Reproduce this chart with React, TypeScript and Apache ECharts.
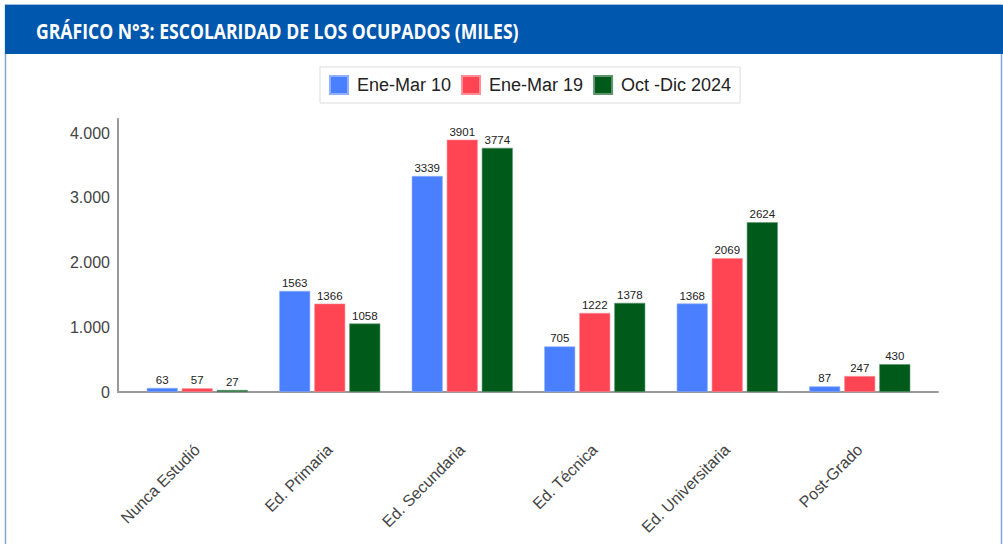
import React, { useEffect, useRef } from "react";
import * as echarts from "echarts";

const categories = ["Nunca Estudió", "Ed. Primaria", "Ed. Secundaria", "Ed. Técnica", "Ed. Universitaria", "Post-Grado"];
const seriesNames = ["Ene-Mar 10", "Ene-Mar 19", "Oct -Dic 2024"];
const eneMar10 = [63, 1563, 3339, 705, 1368, 87];
const eneMar19 = [57, 1366, 3901, 1222, 2069, 247];
const octDic2024 = [27, 1058, 3774, 1378, 2624, 430];
const seriesColors = ["#4a80ff", "#ff4454", "#005a1a"];
const seriesEdge = ["#8fb0ff", "#ff8e97", "#5f9670"];
const titleText = "GRÁFICO N°3: ESCOLARIDAD DE LOS OCUPADOS (MILES)";

const fmt = (v: number) => String(v).replace(/\B(?=(\d{3})+(?!\d))/g, ".");

export default function App() {
  const ref = useRef<HTMLDivElement>(null);
  useEffect(() => {
    if (!ref.current) return;
    const chart = echarts.init(ref.current, undefined, { renderer: "svg" });

    const titleFont = "bold 22px 'Open Sans'";
    let scaleX = 0.72;
    try {
      const ctx = document.createElement("canvas").getContext("2d");
      if (ctx) {
        ctx.font = titleFont;
        const w = ctx.measureText(titleText).width;
        if (w > 0) scaleX = 483 / w;
      }
    } catch (e) {}

    const values = [eneMar10, eneMar19, octDic2024];
    const labelFont = "'Liberation Sans', Arial, sans-serif";

    chart.setOption({
      animation: false,
      backgroundColor: "#ffffff",
      graphic: [
        {
          type: "rect",
          shape: { x: 5.5, y: 5, width: 996, height: 600 },
          style: { fill: "#ffffff", stroke: "#7ea8d8", lineWidth: 1.5 },
          z: -10,
        },
        {
          type: "rect",
          shape: { x: 5, y: 5, width: 998, height: 49 },
          style: { fill: "#0057ae" },
          z: -5,
        },
        {
          type: "text",
          x: 36,
          y: 31,
          scaleX: scaleX,
          style: {
            text: titleText,
            fill: "#ffffff",
            font: titleFont,
            verticalAlign: "middle",
          },
        },
      ],
      legend: {
        data: seriesNames,
        left: 320,
        top: 67,
        padding: [8, 9, 8, 9],
        itemWidth: 18,
        itemHeight: 18,
        itemGap: 10,
        icon: "rect",
        borderColor: "#dddddd",
        borderWidth: 1,
        textStyle: { fontSize: 18, color: "#222222", fontFamily: labelFont, padding: [0, 0, 0, 4] },
      },
      grid: [
        { left: 131, right: 77, top: 119, bottom: 152 },
        { left: 118, right: 65, top: 119, bottom: 152 },
      ],
      xAxis: [
        {
          type: "category",
          data: categories,
          gridIndex: 0,
          axisLine: { show: false },
          axisTick: { show: false },
          axisLabel: {
            rotate: 45,
            margin: 55,
            fontSize: 16,
            color: "#444444",
            fontFamily: labelFont,
            interval: 0,
          },
        },
        {
          type: "value",
          gridIndex: 1,
          min: 0,
          max: 1,
          axisLine: { show: true, lineStyle: { color: "#999999", width: 2 } },
          axisTick: { show: false },
          axisLabel: { show: false },
          splitLine: { show: false },
        },
      ],
      yAxis: [
        {
          type: "value",
          gridIndex: 0,
          min: 0,
          max: 4220,
          interval: 1000,
          offset: 13,
          axisLine: { show: true, lineStyle: { color: "#999999", width: 2 } },
          axisTick: { show: false },
          splitLine: { show: false },
          axisLabel: {
            showMaxLabel: false,
            margin: 8,
            fontSize: 16,
            color: "#444444",
            fontFamily: labelFont,
            formatter: (v: number) => fmt(v),
          },
        },
        {
          type: "value",
          gridIndex: 1,
          show: false,
        },
      ],
      series: seriesNames.map((name, i) => ({
        name,
        type: "bar",
        xAxisIndex: 0,
        yAxisIndex: 0,
        data: values[i],
        barWidth: 31,
        barGap: "13%",
        barMinHeight: 2,
        itemStyle: { color: seriesColors[i], borderColor: seriesEdge[i], borderWidth: 0.6 },
        label: {
          show: true,
          position: "top",
          distance: 2,
          fontSize: 11.5,
          color: "#222222",
          fontFamily: labelFont,
        },
      })),
    });
    return () => chart.dispose();
  }, []);
  return (
    <div
      ref={ref}
      style={{ position: "fixed", left: 0, top: 0, width: 1003, height: 544, background: "#fff" }}
    />
  );
}
